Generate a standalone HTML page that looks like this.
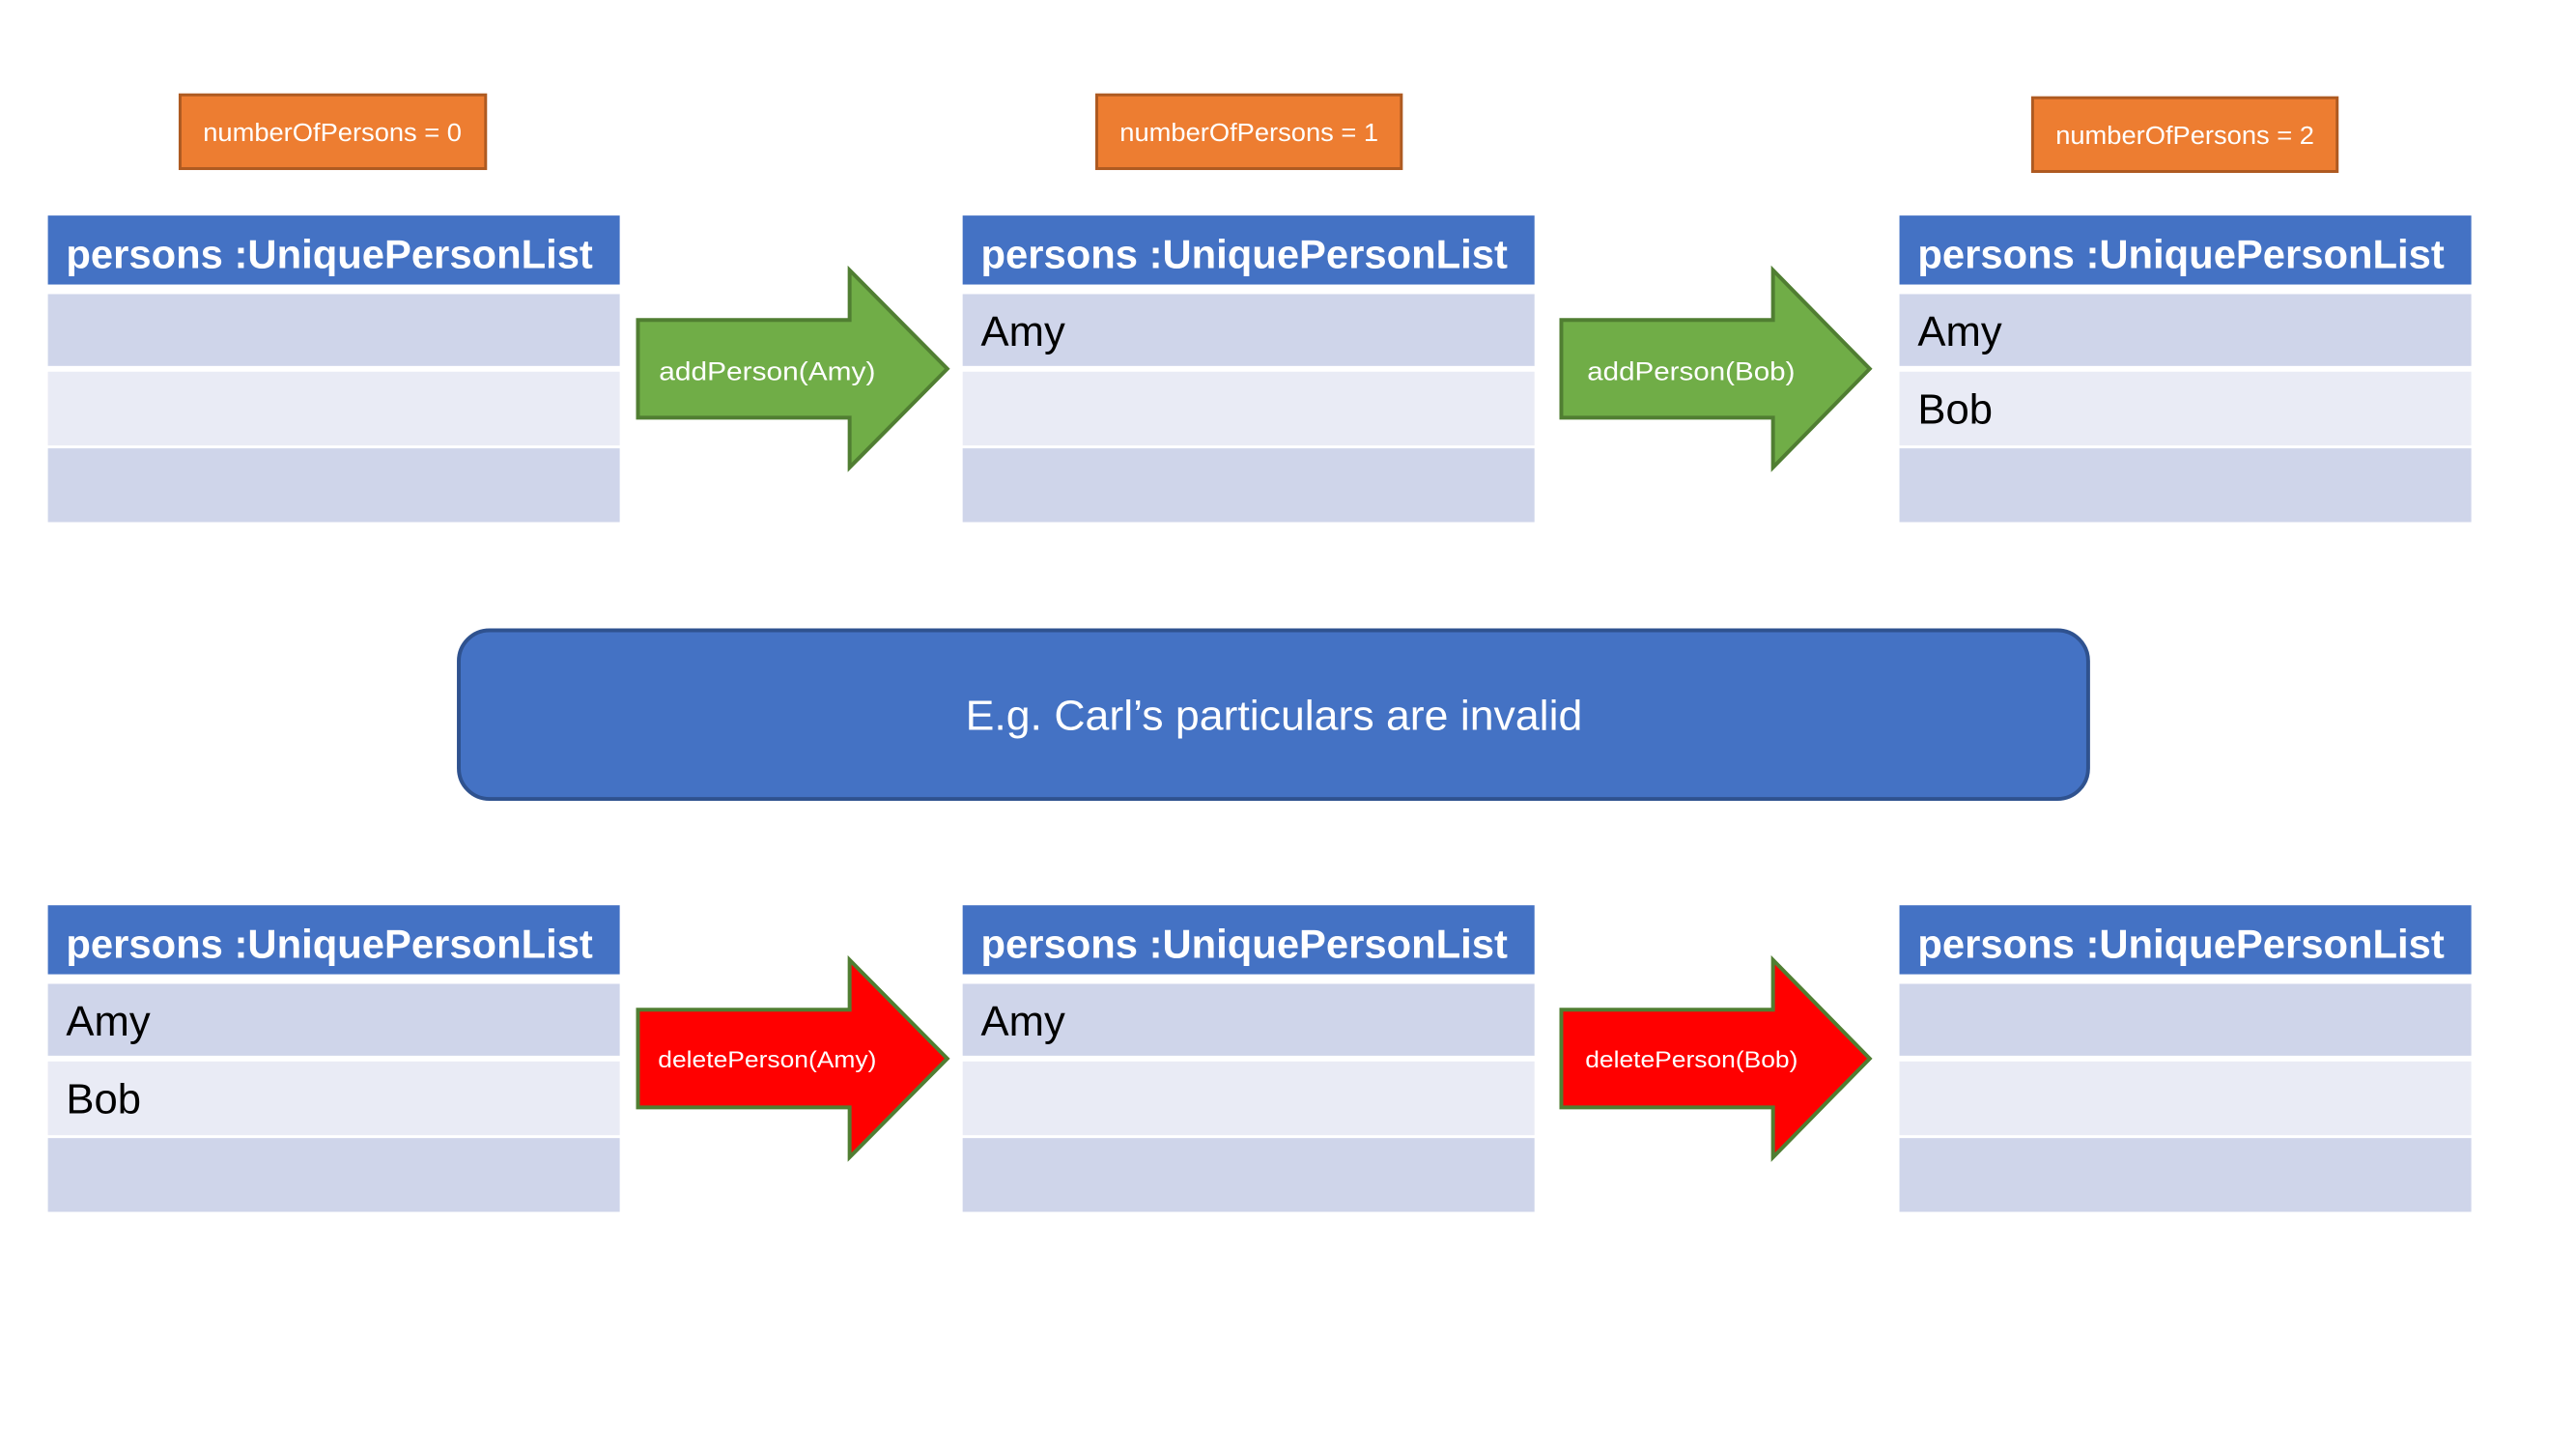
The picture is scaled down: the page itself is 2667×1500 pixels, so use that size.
<!DOCTYPE html>
<html><head><meta charset="utf-8"><style>html,body{margin:0;padding:0;background:#fff}svg{display:block}</style></head>
<body>
<svg width="2667" height="1500" viewBox="0 0 2667 1500" xmlns="http://www.w3.org/2000/svg" font-family="'Liberation Sans', sans-serif">
<defs>
<g id="tbl">
  <rect x="0" y="0" width="597" height="72" fill="#4472C4"/>
  <rect x="0" y="82" width="597" height="75" fill="#CFD5EA"/>
  <rect x="0" y="163" width="597" height="77" fill="#E9EBF5"/>
  <rect x="0" y="243" width="597" height="77" fill="#CFD5EA"/>
  <text x="19" y="55" font-size="42" font-weight="bold" fill="#fff" textLength="550" lengthAdjust="spacingAndGlyphs">persons :UniquePersonList</text>
</g>
</defs>
<g transform="scale(0.9917)">
<g fill="#ED7D31" stroke="#AE5A21" stroke-width="3">
  <rect x="188" y="99" width="319" height="77"/>
  <rect x="1145" y="99" width="318" height="77"/>
  <rect x="2122" y="102" width="318" height="77"/>
</g>
<g fill="#fff" font-size="26" text-anchor="middle">
  <text x="347" y="147" textLength="270" lengthAdjust="spacingAndGlyphs">numberOfPersons = 0</text>
  <text x="1304" y="147" textLength="270" lengthAdjust="spacingAndGlyphs">numberOfPersons = 1</text>
  <text x="2281" y="150" textLength="270" lengthAdjust="spacingAndGlyphs">numberOfPersons = 2</text>
</g>
<use href="#tbl" x="50" y="225"/>
<use href="#tbl" x="1005" y="225"/>
<use href="#tbl" x="1983" y="225"/>
<use href="#tbl" x="50" y="945"/>
<use href="#tbl" x="1005" y="945"/>
<use href="#tbl" x="1983" y="945"/>
<g font-size="44" fill="#000">
  <text x="1024" y="361">Amy</text>
  <text x="2002" y="361">Amy</text>
  <text x="2002" y="442">Bob</text>
  <text x="69" y="1081">Amy</text>
  <text x="69" y="1162">Bob</text>
  <text x="1024" y="1081">Amy</text>
</g>
<g stroke="#507E32" stroke-width="4" fill="#70AD47">
  <polygon points="666,334 887,334 887,282 989,385 887,488 887,436 666,436"/>
  <polygon points="1630,334 1851,334 1851,282 1952,385 1851,488 1851,436 1630,436"/>
</g>
<g stroke="#507E32" stroke-width="4" fill="#FF0000">
  <polygon points="666,1054 887,1054 887,1002 989,1105 887,1208 887,1156 666,1156"/>
  <polygon points="1630,1054 1851,1054 1851,1002 1952,1105 1851,1208 1851,1156 1630,1156"/>
</g>
<g fill="#fff" font-size="27">
  <text x="688" y="397" textLength="226" lengthAdjust="spacingAndGlyphs">addPerson(Amy)</text>
  <text x="1657" y="397" textLength="217" lengthAdjust="spacingAndGlyphs">addPerson(Bob)</text>
  <text x="687" y="1114" font-size="24" textLength="228" lengthAdjust="spacingAndGlyphs">deletePerson(Amy)</text>
  <text x="1655" y="1114" font-size="24" textLength="222" lengthAdjust="spacingAndGlyphs">deletePerson(Bob)</text>
</g>
<rect x="479" y="658" width="1701" height="176" rx="32" fill="#4472C4" stroke="#2F528F" stroke-width="4"/>
<text x="1330" y="762" font-size="44" fill="#fff" text-anchor="middle" textLength="644" lengthAdjust="spacingAndGlyphs">E.g. Carl’s particulars are invalid</text>
</g>
</svg>
</body></html>
